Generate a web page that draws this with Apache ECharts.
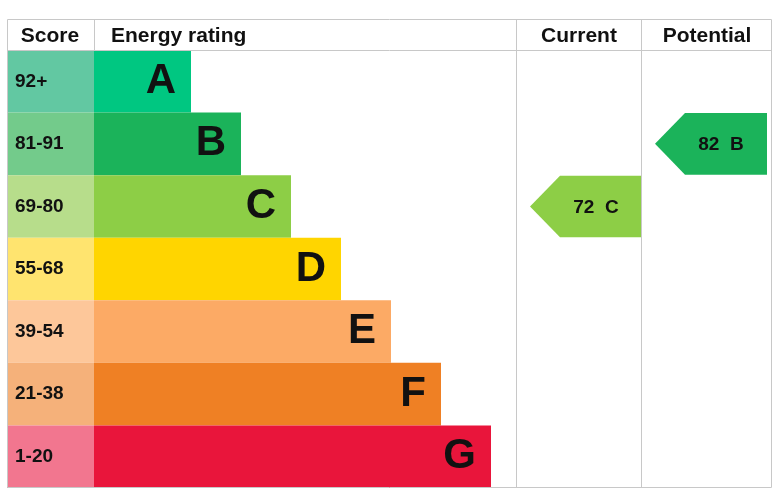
<!DOCTYPE html>
<html><head><meta charset="utf-8">
<script src="https://cdn.jsdelivr.net/npm/echarts@6/dist/echarts.min.js"></script>
<style>html,body{margin:0;padding:0;background:#fff}#c{width:773px;height:491px}</style>
</head><body><div id="c"></div>
<script>
const ratings = ['A','B','C','D','E','F','G'];
const scoreLabels = ['92+','81-91','69-80','55-68','39-54','21-38','1-20'];
const scoreColors = ['#62c8a2','#73cb8b','#b7dd8b','#ffe46f','#fdc79a','#f5b17a','#f2768f'];
const bandColors = ['#00c781','#1bb35a','#8dce46','#ffd500','#fcaa65','#ef8024','#e9153b'];
const bandLengths = [97,147,197,247,297,347,397];
const scoreWidth = 87;
const current = {value:72, rating:'C'};
const potential = {value:82, rating:'B'};
const colStart = {current:516, potential:641};

const F = 'Liberation Sans, Arial, sans-serif';
const chart = echarts.init(document.getElementById('c'));
function arrowItem(col, r){ const i=ratings.indexOf(r.rating); return [colStart[col], i, r.value, r.rating, bandColors[i]]; }
chart.setOption({
  animation:false,
  grid:{left:7,right:1,top:50,bottom:3},
  xAxis:{type:'value',min:0,max:765,show:false},
  yAxis:{type:'category',data:ratings,inverse:true,show:false},
  graphic:[
    {type:'rect',shape:{x:7.5,y:19.5,width:764,height:468},style:{fill:'none',stroke:'#c8c8c8',lineWidth:1},z:100},
    {type:'line',shape:{x1:7,y1:50.5,x2:772,y2:50.5},style:{stroke:'#c8c8c8',lineWidth:1},z:100},
    {type:'line',shape:{x1:94.5,y1:19,x2:94.5,y2:50},style:{stroke:'#c8c8c8',lineWidth:1},z:100},
    {type:'line',shape:{x1:516.5,y1:19,x2:516.5,y2:488},style:{stroke:'#c8c8c8',lineWidth:1},z:100},
    {type:'line',shape:{x1:641.5,y1:19,x2:641.5,y2:488},style:{stroke:'#c8c8c8',lineWidth:1},z:100},
    {type:'text',x:50,y:36,style:{text:'Score',font:'bold 21px '+F,fill:'#111',align:'center',verticalAlign:'middle'}},
    {type:'text',x:111,y:36,style:{text:'Energy rating',font:'bold 21px '+F,fill:'#111',align:'left',verticalAlign:'middle'}},
    {type:'text',x:579,y:36,style:{text:'Current',font:'bold 21px '+F,fill:'#111',align:'center',verticalAlign:'middle'}},
    {type:'text',x:707,y:36,style:{text:'Potential',font:'bold 21px '+F,fill:'#111',align:'center',verticalAlign:'middle'}}
  ],
  series:[
    {type:'bar',stack:'s',barCategoryGap:0,
     data:scoreLabels.map((s,i)=>({value:scoreWidth,itemStyle:{color:scoreColors[i]},label:{formatter:s}})),
     label:{show:true,position:'insideLeft',distance:8,font:'bold 19px '+F,fontWeight:'bold',fontSize:19,fontFamily:F,color:'#111'}},
    {type:'bar',stack:'s',barCategoryGap:0,
     data:bandLengths.map((v,i)=>({value:v,itemStyle:{color:bandColors[i]}})),
     label:{show:true,position:'insideRight',distance:15,formatter:p=>ratings[p.dataIndex],fontWeight:'bold',fontSize:42,fontFamily:F,color:'#111'}},
    {type:'custom',
     data:[arrowItem('current',current),arrowItem('potential',potential)],
     renderItem:function(params,api){
       const x0=api.value(0)-7+7, i=api.value(1);
       const p=api.coord([x0+0,i]);
       const h=api.size([0,1])[1];
       const left=p[0]+7, right=left+112, top=p[1]-h/2+0.5, bot=p[1]+h/2-0.5, tip=30;
       return {type:'group',children:[
         {type:'polygon',shape:{points:[[left,p[1]],[left+tip,top],[right,top],[right,bot],[left+tip,bot]]},style:{fill:api.value(4)}},
         {type:'text',x:left+66,y:p[1]+1,style:{text:api.value(2)+'  '+api.value(3),font:'bold 19px '+F,fill:'#111',align:'center',verticalAlign:'middle'}}
       ]};
     },
     encode:{x:0,y:1},
     dimensions:['x','y','v','r','c']}
  ]
});
</script></body></html>
